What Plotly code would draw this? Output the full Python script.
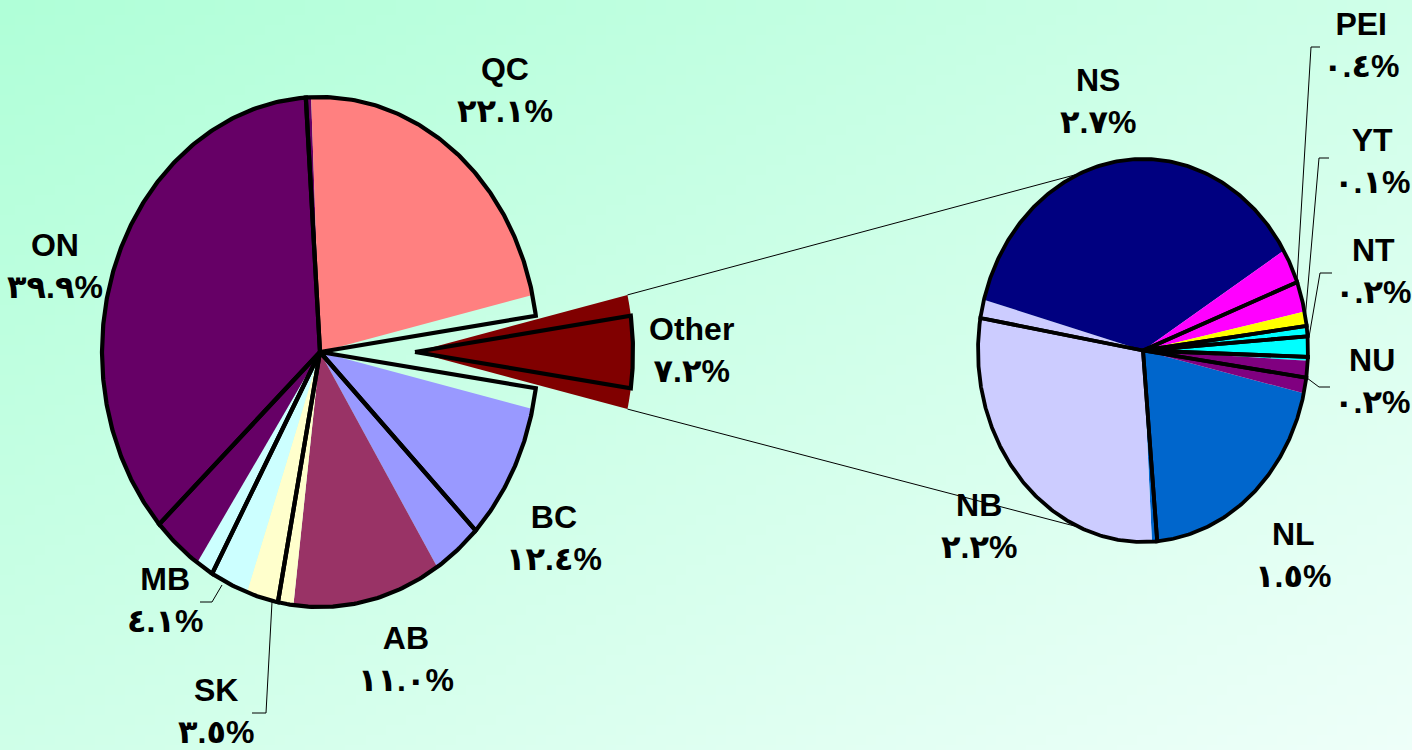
import math, zlib, struct, base64
import numpy as np
import plotly.graph_objects as go

# ---------------- data ----------------
main_labels = ["BC", "AB", "SK", "MB", "ON", "QC", "Other"]
main_values = [12.4, 11.0, 3.5, 4.1, 39.9, 22.1, 7.2]
main_colors = ["#9999FF", "#993366", "#FFFFCC", "#CCFFFF", "#660066", "#FF8080", "#800000"]

sub_labels = ["NL", "NB", "NS", "PEI", "YT", "NT", "NU"]
sub_values = [1.5, 2.2, 2.7, 0.4, 0.1, 0.2, 0.2]
sub_colors = ["#0066CC", "#CCCCFF", "#000080", "#FF00FF", "#FFFF00", "#00FFFF", "#800080"]

# ---------------- geometry / style ----------------
W, H = 1412, 750
C1 = dict(cx=320, cy=352, rx=218, ry=255)
C2 = dict(cx=1143, cy=350.5, rx=165, ry=191.5)
EXPLODE = 95          # px offset of the "Other" slice
K_WARP = 1.6          # outline angular distortion seen in the original rendering
OUT_W = 4.2
CONNECT_ANG = (337.5, 202.5)

label_pos = {
    "ON": (55, 266), "QC": (505, 90), "BC": (554, 538), "AB": (406, 659),
    "SK": (216, 711), "MB": (165, 600), "Other": (691, 350),
    "NS": (1098, 101), "PEI": (1361, 45), "YT": (1372, 161), "NT": (1373, 271),
    "NU": (1372, 381), "NL": (1293, 555), "NB": (979, 526),
}
leaders = [
    [(222, 585), (212, 602), (200, 602)],
    [(272, 602), (266, 713), (252, 713)],
    [(1297, 280), (1311, 47), (1320, 47)],
    [(1305, 320), (1319, 158), (1329, 158)],
    [(1309, 337), (1320, 273), (1332, 273)],
    [(1307, 378), (1319, 387), (1330, 387)],
]

AR = str.maketrans("0123456789", "٠١٢٣٤٥٦٧٨٩")


def pct_text(v):
    return f"{v:.1f}".translate(AR) + "%"


def ell_pt(c, deg, dx=0.0):
    r = math.radians(deg)
    return c["cx"] + dx + c["rx"] * math.sin(r), c["cy"] - c["ry"] * math.cos(r)


def wedge(c, a0, a1, dx=0.0, warp=False):
    n = max(4, int(abs(a1 - a0) * 2))
    th = np.linspace(math.radians(a0), math.radians(a1), n)
    if warp:
        th = np.unwrap(np.arctan2(K_WARP * np.sin(th), np.cos(th)))
    xs = [c["cx"] + dx] + list(c["cx"] + dx + c["rx"] * np.sin(th)) + [c["cx"] + dx]
    ys = [c["cy"]] + list(c["cy"] - c["ry"] * np.cos(th)) + [c["cy"]]
    return xs, ys


def make_png(w, h, c0, c1):
    rows = []
    for j in range(h):
        row = bytearray([0])
        for i in range(w):
            t = (i / (w - 1) + j / (h - 1)) / 2
            row += bytes(int(round(c0[k] + (c1[k] - c0[k]) * t)) for k in range(3))
        rows.append(bytes(row))
    raw = b"".join(rows)

    def chunk(tag, data):
        return struct.pack(">I", len(data)) + tag + data + struct.pack(">I", zlib.crc32(tag + data) & 0xFFFFFFFF)

    png = (b"\x89PNG\r\n\x1a\n" + chunk(b"IHDR", struct.pack(">IIBBBBB", w, h, 8, 2, 0, 0, 0))
           + chunk(b"IDAT", zlib.compress(raw)) + chunk(b"IEND", b""))
    return "data:image/png;base64," + base64.b64encode(png).decode()


fig = go.Figure()

# ---------- main pie ----------
tot1 = sum(main_values)
other_span = main_values[-1] / tot1 * 360
start = 90 + other_span / 2
spans1 = []
a = start
for v in main_values:
    s = v / tot1 * 360
    spans1.append((a, a + s))
    a += s

for (a0, a1), lab, col in zip(spans1, main_labels, main_colors):
    dx = EXPLODE if lab == "Other" else 0
    xs, ys = wedge(C1, a0, a1, dx)
    fig.add_trace(go.Scatter(x=xs, y=ys, mode="none", fill="toself", fillcolor=col,
                             hoverinfo="skip", showlegend=False))
for (a0, a1), lab in zip(spans1, main_labels):
    dx = EXPLODE if lab == "Other" else 0
    xs, ys = wedge(C1, a0, a1, dx, warp=True)
    fig.add_trace(go.Scatter(x=xs, y=ys, mode="lines", line=dict(color="black", width=OUT_W),
                             hoverinfo="skip", showlegend=False))

# ---------- secondary pie ----------
tot2 = sum(sub_values)
spans2 = []
a = start
for v in sub_values:
    s = v / tot2 * 360
    spans2.append((a, a + s))
    a += s
for (a0, a1), col in zip(spans2, sub_colors):
    xs, ys = wedge(C2, a0, a1)
    fig.add_trace(go.Scatter(x=xs, y=ys, mode="none", fill="toself", fillcolor=col,
                             hoverinfo="skip", showlegend=False))
for (a0, a1) in spans2:
    xs, ys = wedge(C2, a0, a1, warp=True)
    fig.add_trace(go.Scatter(x=xs, y=ys, mode="lines", line=dict(color="black", width=OUT_W - 0.4),
                             hoverinfo="skip", showlegend=False))

# ---------- connectors ----------
o0, o1 = spans1[-1]
for oa, ca in zip((o0, o1), CONNECT_ANG):
    p = ell_pt(C1, oa, EXPLODE)
    q = ell_pt(C2, ca)
    fig.add_trace(go.Scatter(x=[p[0], q[0]], y=[p[1], q[1]], mode="lines",
                             line=dict(color="black", width=1), hoverinfo="skip", showlegend=False))
for pts in leaders:
    fig.add_trace(go.Scatter(x=[p[0] for p in pts], y=[p[1] for p in pts], mode="lines",
                             line=dict(color="black", width=1), hoverinfo="skip", showlegend=False))

# ---------- labels ----------
for lab, v in list(zip(main_labels, main_values)) + list(zip(sub_labels, sub_values)):
    x, y = label_pos[lab]
    fig.add_annotation(x=x, y=y, xref="x", yref="y", text=f"{lab}<br>{pct_text(v)}",
                       showarrow=False, xanchor="center", yanchor="middle", align="center",
                       font=dict(family="Liberation Sans, Arial, DejaVu Sans", size=32,
                                 color="black", weight="bold"))

fig.update_layout(
    width=W, height=H, margin=dict(l=0, r=0, t=0, b=0),
    paper_bgcolor="#D0FFE8", plot_bgcolor="rgba(0,0,0,0)",
    xaxis=dict(range=[0, W], visible=False, fixedrange=True),
    yaxis=dict(range=[H, 0], visible=False, fixedrange=True),
    images=[dict(source=make_png(141, 75, (176, 255, 216), (238, 255, 249)),
                 xref="paper", yref="paper", x=0, y=1, sizex=1, sizey=1,
                 sizing="stretch", layer="below", xanchor="left", yanchor="top")],
)

fig.write_html("out.html", config={"displayModeBar": False},
               post_script="document.body.style.margin='0';")
